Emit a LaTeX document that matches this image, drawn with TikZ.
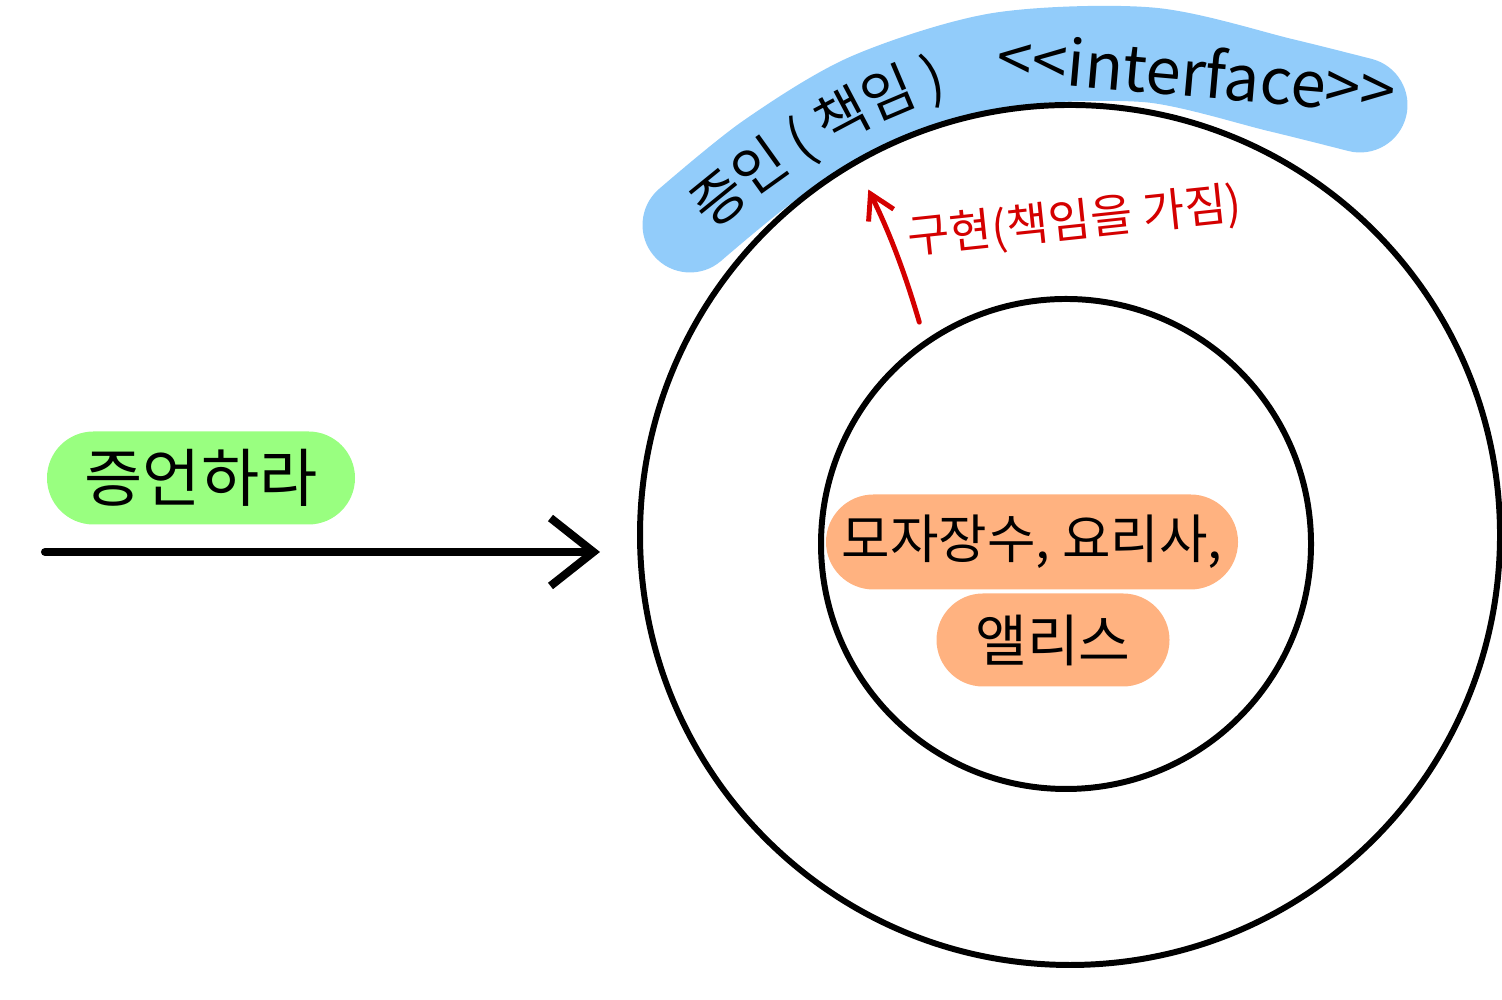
\documentclass[tikz,border=0pt]{standalone}
\usepackage{fontspec}
\setmainfont{Noto Sans CJK KR}
\usepackage{xcolor}
\usetikzlibrary{shapes.misc, arrows.meta, positioning, decorations.text}

\definecolor{bandblue}{HTML}{92CCFA}
\definecolor{cmdgreen}{HTML}{99FF80}
\definecolor{rolepeach}{HTML}{FFB280}
\definecolor{implred}{HTML}{D40000}

\begin{document}
\begin{tikzpicture}
\tikzstyle{ring} = [circle, draw=black, line width=1.7pt, inner sep=0pt, outer sep=0pt]
\tikzstyle{pill} = [rounded rectangle, inner sep=0pt, outer sep=0pt]
\tikzstyle{band} = [draw=bandblue, line width=0.95cm, line cap=round, line join=round]
\tikzstyle{bandtext} = [inner sep=0pt, font=\fontsize{18}{21}\selectfont]
\tikzstyle{impltext} = [inner sep=0pt, text=implred, font=\fontsize{13}{16}\selectfont]
\tikzstyle{arrow} = [line width=2.3pt, line cap=round, line join=round, -{Straight Barb[length=4.3mm, width=6.8mm]}]
\tikzstyle{implarrow} = [draw=implred, line width=1.4pt, line cap=round, line join=round, -{Straight Barb[length=2.4mm, width=2.8mm]}]

\useasboundingbox (0,0) rectangle (15.02,10);

% interface band
\draw[band] plot[smooth] coordinates {(6.9,7.75) (7.7,8.4) (8.7,9.0) (10.0,9.4) (11.5,9.45) (12.8,9.15) (13.6,8.95)};
% curved label on the band
\path[decorate, decoration={text along path, text align=center, raise=-2mm,
  text={|\fontsize{16}{19}\selectfont|증인 ( 책임 )}}]
  (6.55,7.45) .. controls (7.6,8.45) and (8.7,9.15) .. (10.0,9.4);

\node[ring, minimum size=8.6cm] (outer) at (10.7,4.65) {};
\node[ring, minimum size=4.9cm] (inner) at (10.66,4.56) {};

\node[bandtext, rotate=-5] (iface) at (11.97,9.28) {<\kern0pt<interface>\kern0pt>};

\node[pill, fill=cmdgreen, minimum width=3.08cm, minimum height=0.93cm, font=\fontsize{18}{21}\selectfont] (command) at (2.01,5.22) {증언하라};
\node[pill, fill=rolepeach, minimum width=4.12cm, minimum height=0.95cm, font=\fontsize{15}{18}\selectfont] (roles) at (10.32,4.58) {모자장수, 요리사,};
\node[pill, fill=rolepeach, minimum width=2.33cm, minimum height=0.93cm, font=\fontsize{16}{19}\selectfont] (alice) at (10.53,3.60) {앨리스};

\node[impltext, rotate=6] (impllabel) at (10.75,7.78) {구현(책임을 가짐)};

\coordinate (cmdstart) at (0.45,4.48);
\coordinate (cmdend) at (6.0,4.48);

\draw[arrow] (cmdstart) -- (cmdend);
\draw[implarrow, shorten <=2.2mm, shorten >=3mm] (inner.125) to[bend right=5] (outer.120);
\end{tikzpicture}
\end{document}
